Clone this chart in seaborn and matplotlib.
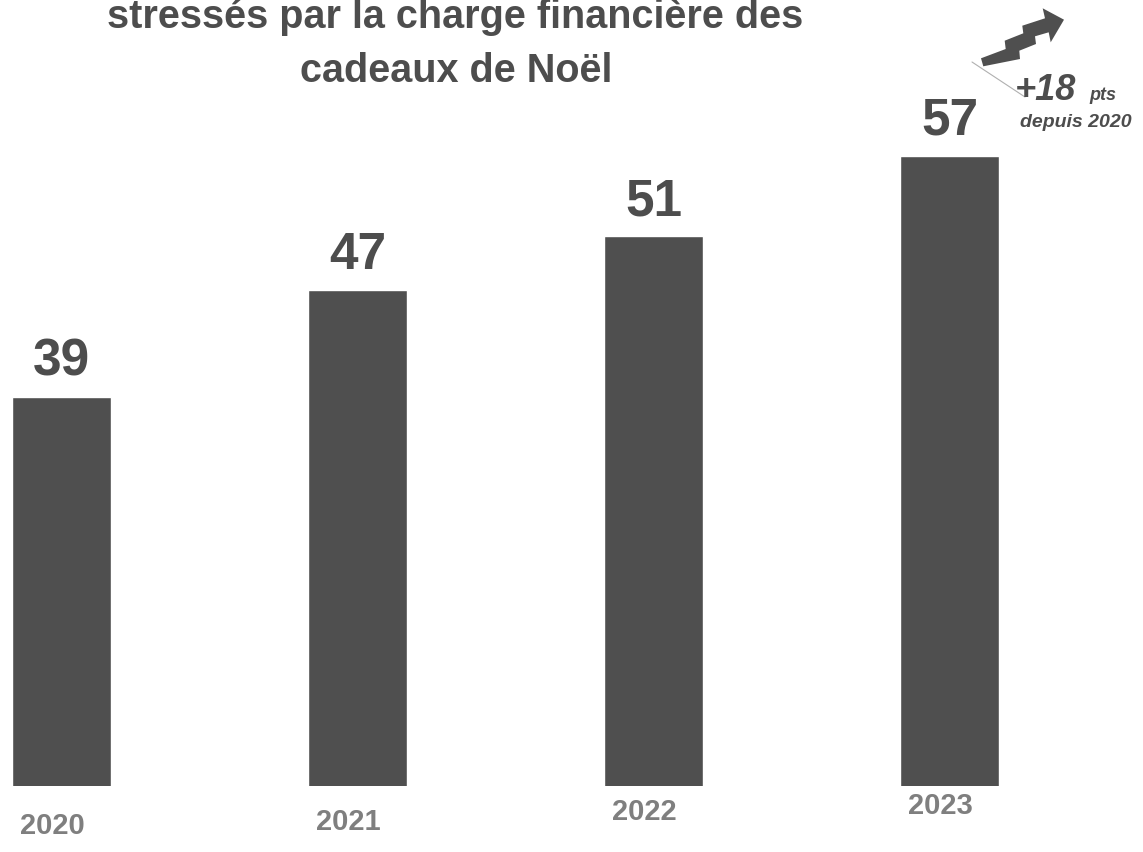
import matplotlib
matplotlib.use("Agg")
import matplotlib.pyplot as plt
import matplotlib.transforms as mtransforms
from matplotlib import font_manager
import seaborn as sns
import pandas as pd
from matplotlib.patches import Polygon
from matplotlib.lines import Line2D

# data
years = ["2020", "2021", "2022", "2023"]
values = [39, 47, 51, 57]

BAR = "#4f4f4f"
TEXT = "#4d4d4d"
YEAR = "#7f7f7f"

W, H = 1143, 853

sns.set_theme(style="white")
plt.rcParams["font.family"] = ["Liberation Sans", "DejaVu Sans"]

# year labels in the original use a condensed face
names = {f.name for f in font_manager.fontManager.ttflist}
if "Liberation Sans Narrow" in names:
    year_font, year_size = "Liberation Sans Narrow", 26
else:
    year_font, year_size = "Liberation Sans", 21

df = pd.DataFrame({"year": years, "value": values})

fig = plt.figure(figsize=(W / 100, H / 100), dpi=100)
ax = fig.add_axes([0, 66 / H, 1, 1 - 66 / H])
sns.barplot(data=df, x="year", y="value", color=BAR, width=0.334,
            saturation=1, ax=ax)
ax.set_xlim(-0.208, 3.654)
ax.set_ylim(10, 68.7)
ax.set_axis_off()

# value labels above the bars
for i, v in enumerate(values):
    ax.annotate(str(v), (i, v), xytext=(0, 16), textcoords="offset points",
                ha="center", va="baseline", fontsize=37, fontweight="bold",
                color=TEXT)

# year labels (slightly staggered like the original)
year_label_y = [826, 822, 812, 806]
blend = mtransforms.blended_transform_factory(ax.transData, fig.transFigure)
for i, (yr, py) in enumerate(zip(years, year_label_y)):
    ax.text(i - 0.03, 1 - py / H, yr, ha="center", va="center",
            fontsize=year_size, fontweight="bold", color=YEAR,
            family=year_font, transform=blend)

# title (top line cut off in the original)
fig.text(455 / W, 1 - 28 / H, "stressés par la charge financière des",
         ha="center", va="baseline", fontsize=28.5, fontweight="bold",
         color=TEXT)
fig.text(456 / W, 1 - 82 / H, "cadeaux de Noël", ha="center",
         va="baseline", fontsize=28.5, fontweight="bold", color=TEXT)

# zigzag arrow
pts = [(981, 59.3), (1005.7, 50), (1004.7, 41.7), (1023.3, 34.3),
       (1022.3, 26.7), (1045, 19.3), (1042.7, 9.3), (1064, 20.7),
       (1050.7, 43.3), (1048.7, 33.3), (1035, 37.3), (1036, 45),
       (1019.3, 51.7), (1020, 60), (983.3, 67.3)]
fig.patches.append(Polygon([(x / W, 1 - y / H) for x, y in pts], closed=True,
                           transform=fig.transFigure, facecolor=BAR,
                           edgecolor="none"))
fig.lines.append(Line2D([972 / W, 1025 / W], [1 - 63 / H, 1 - 98 / H],
                        transform=fig.transFigure, color="#b0b0b0", lw=0.8))

fig.text(1015 / W, 1 - 100 / H, "+18", ha="left", va="baseline",
         fontsize=26, fontweight="bold", style="italic", color=TEXT)
fig.text(1089 / W, 1 - 100 / H, "pts", ha="left", va="baseline",
         fontsize=13, fontweight="bold", style="italic", color=TEXT)
fig.text(1076 / W, 1 - 127 / H, "depuis 2020", ha="center", va="baseline",
         fontsize=14, fontweight="bold", style="italic", color=TEXT)

fig.savefig("out.png", dpi=100)
